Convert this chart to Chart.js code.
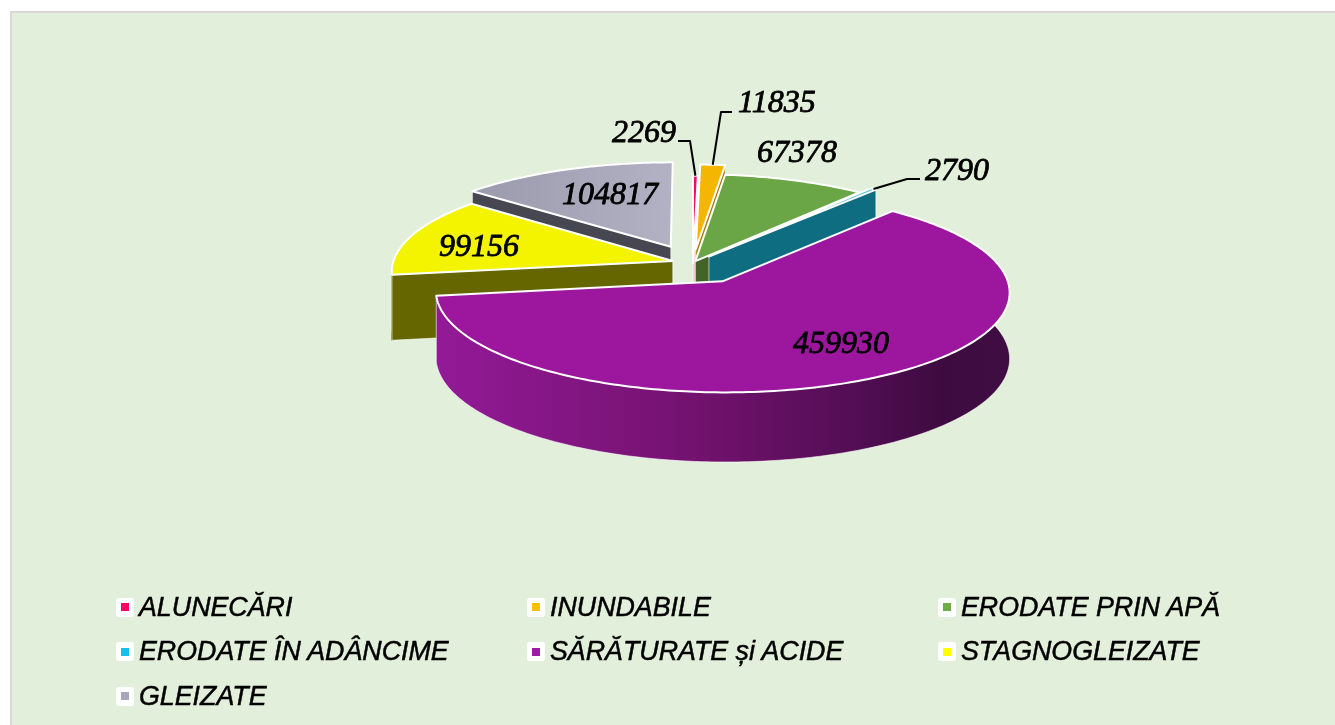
<!DOCTYPE html>
<html lang="ro">
<head>
  <meta charset="UTF-8">
  <title>Terenuri degradate</title>
  <script src="https://cdn.jsdelivr.net/npm/chart.js"></script>
  <style>
    html, body { margin: 0; padding: 0; width: 1335px; height: 725px; overflow: hidden; background: #fff; }
    #panel { position: absolute; left: 10px; top: 11px; right: 0; bottom: 0; background: #e2efda;
             border-left: 2px solid #d9d9d9; border-top: 2px solid #d9d9d9; }
    canvas { position: absolute; left: 0; top: 0; }
    #legend { position: absolute; left: 116px; top: 585px; display: grid; grid-template-columns: repeat(3, 411px); grid-auto-rows: 44.5px;
              font: italic 26.8px "Liberation Sans", sans-serif; color: #000; -webkit-text-stroke: 0.5px #000; }
    .item { display: flex; align-items: center; white-space: nowrap; }
    .box { width: 18px; height: 19px; background: #fff; border-radius: 3px; margin-right: 5px; display: flex; align-items: center; justify-content: center; flex: none; }
    .box i { display: block; width: 8px; height: 8px; }
  </style>
</head>
<body>
  <div id="panel"></div>
  <canvas id="pie" width="1335" height="725"></canvas>
  <div id="legend"></div>
  <script>
    // date
    const categories = ['ALUNECĂRI', 'INUNDABILE', 'ERODATE PRIN APĂ', 'ERODATE ÎN ADÂNCIME', 'SĂRĂTURATE și ACIDE', 'STAGNOGLEIZATE', 'GLEIZATE'];
    const areas = [2269, 11835, 67378, 2790, 459930, 99156, 104817];

    // stil felii
    const legendColors = ['#ff0066', '#ffc000', '#70ad47', '#12c3e8', '#a01aa8', '#ffff00', '#a6a6ba'];
    const topColors = ['#f5086a', '#f4b600', '#6aa645', '#3fbadb', '#9c179e', '#f4f400', ['#9a9aad', '#b2b2c4']];
    const wallColors = ['#f6c3d6', '#a87c00', '#436428', '#0f6d82',
      [[0, '#931a97'], [0.45, '#73126f'], [0.75, '#500d52'], [0.88, '#3e0b40'], [1, '#400d42']],
      '#666600', '#474751'];
    const explode = [0, 40, 6, 25, 60, 21, 53];
    const drawOrder = [6, 0, 1, 2, 3, 5, 4]; // din spate in fata

    // etichete: x stanga, baseline, cot linie de ghidaj
    const labelPos = [
      { x: 612, y: 142, elbow: [[678, 141], [690, 141]] },
      { x: 738, y: 112, elbow: [[732, 112], [721, 112]] },
      { x: 757, y: 162 },
      { x: 925, y: 180, elbow: [[920, 179], [907, 179]] },
      { x: 793, y: 353 },
      { x: 439, y: 256 },
      { x: 562, y: 204 }
    ];

    // perspectiva
    const squash = 96 / 280, persp = 0.1, depth = 65;

    function project(el, i, a, r, down) {
      const mid = (el.startAngle + el.endAngle) / 2;
      const e = explode[i] / el.outerRadius;
      const u = Math.cos(a) * r + Math.cos(mid) * e;
      const v = Math.sin(a) * r + Math.sin(mid) * e;
      const w = 1 - persp * v;
      return {
        x: el.x + el.outerRadius * u / w,
        y: el.y + el.outerRadius * squash * v / w + (down ? depth * (1 + 0.06 * v) : 0)
      };
    }

    function arcPts(el, i, a0, a1, down) {
      const pts = [];
      const n = Math.max(2, Math.ceil((a1 - a0) * 60));
      for (let k = 0; k <= n; k++) {
        pts.push(project(el, i, a0 + (a1 - a0) * k / n, 1, down));
      }
      return pts;
    }

    function paint(ctx, pts, style, stroke, lw) {
      ctx.beginPath();
      pts.forEach((p, k) => k ? ctx.lineTo(p.x, p.y) : ctx.moveTo(p.x, p.y));
      ctx.closePath();
      if (Array.isArray(style)) {
        const xs = pts.map(p => p.x);
        const g = ctx.createLinearGradient(Math.min(...xs), 0, Math.max(...xs), 0);
        const stops = Array.isArray(style[0]) ? style : style.map((c, k) => [k / (style.length - 1), c]);
        stops.forEach(s => g.addColorStop(s[0], s[1]));
        ctx.fillStyle = g;
      } else {
        ctx.fillStyle = style;
      }
      ctx.fill();
      ctx.strokeStyle = stroke;
      ctx.lineWidth = lw;
      ctx.lineJoin = 'round';
      ctx.stroke();
    }

    function drawCut(ctx, el, i, a, style, edge) {
      paint(ctx, [project(el, i, a, 0, false), project(el, i, a, 1, false),
        project(el, i, a, 1, true), project(el, i, a, 0, true)], style, edge, 1);
    }

    function drawSlice(ctx, el, i) {
      const a0 = el.startAngle, a1 = el.endAngle;
      const wall = wallColors[i];
      const isGradient = Array.isArray(wall);
      const edge = 'rgba(255,255,255,0.6)';
      // peretele exterior, partea din fata (marja pentru perspectiva)
      const from = Math.max(a0, -0.3), to = Math.min(a1, Math.PI + 0.3);
      if (to > from) {
        const top = arcPts(el, i, from, to, false);
        const bottom = arcPts(el, i, from, to, true);
        paint(ctx, top.concat(bottom.reverse()), wall, isGradient ? edge : wall, 1);
      }
      // doar peretii intorsi spre privitor
      if (-Math.cos(a0) > 0) drawCut(ctx, el, i, a0, wall, edge);
      if (Math.cos(a1) > 0) drawCut(ctx, el, i, a1, wall, edge);
      // fata de sus
      paint(ctx, [project(el, i, a0, 0, false)].concat(arcPts(el, i, a0, a1, false)), topColors[i], '#fff', 2);
    }

    function drawLabels(ctx, meta) {
      ctx.font = 'italic 32px "Liberation Serif", serif';
      ctx.textAlign = 'left';
      ctx.textBaseline = 'alphabetic';
      areas.forEach((val, i) => {
        const pos = labelPos[i];
        if (pos.elbow) {
          const el = meta.data[i];
          const end = project(el, i, (el.startAngle + el.endAngle) / 2, 1, false);
          ctx.beginPath();
          ctx.moveTo(pos.elbow[0][0], pos.elbow[0][1]);
          ctx.lineTo(pos.elbow[1][0], pos.elbow[1][1]);
          ctx.lineTo(end.x, end.y);
          ctx.strokeStyle = '#000';
          ctx.lineWidth = 2;
          ctx.stroke();
        }
        ctx.fillStyle = '#000';
        ctx.strokeStyle = '#000';
        ctx.lineWidth = 0.8;
        ctx.fillText(String(val), pos.x, pos.y);
        ctx.strokeText(String(val), pos.x, pos.y);
      });
    }

    const pie3d = {
      id: 'pie3d',
      beforeDatasetsDraw(chart) {
        const ctx = chart.ctx;
        const meta = chart.getDatasetMeta(0);
        ctx.save();
        drawOrder.forEach(i => drawSlice(ctx, meta.data[i], i));
        drawLabels(ctx, meta);
        ctx.restore();
        return false;
      }
    };

    new Chart(document.getElementById('pie').getContext('2d'), {
      type: 'pie',
      data: {
        labels: categories,
        datasets: [{ data: areas, backgroundColor: legendColors, offset: explode, borderWidth: 0 }]
      },
      options: {
        responsive: false,
        animation: false,
        events: [],
        radius: 280,
        layout: { padding: { left: 51, bottom: 199 } },
        plugins: { legend: { display: false }, tooltip: { enabled: false } }
      },
      plugins: [pie3d]
    });

    // legenda
    const legend = document.getElementById('legend');
    categories.forEach((name, i) => {
      const item = document.createElement('div');
      item.className = 'item';
      item.innerHTML = '<span class="box"><i style="background:' + legendColors[i] + '"></i></span><span>' + name + '</span>';
      legend.appendChild(item);
    });
  </script>
</body>
</html>
